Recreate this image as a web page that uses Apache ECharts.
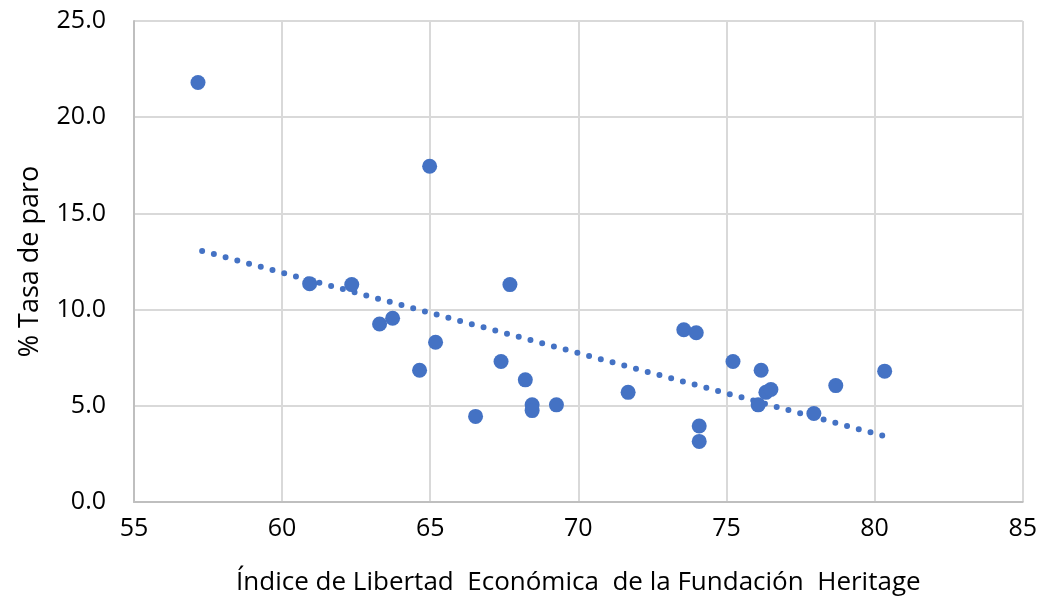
<!DOCTYPE html>
<html>
<head>
<meta charset="utf-8">
<script src="https://cdn.jsdelivr.net/npm/echarts@6/dist/echarts.min.js"></script>
<style>
html,body{margin:0;padding:0;background:#fff;}
#chart{width:1040px;height:605px;}
</style>
</head>
<body>
<div id="chart"></div>
<script>
// libertad economica (x) vs tasa de paro (y)
var libertad = [57.16, 64.98, 60.93, 62.35, 67.69, 63.29, 63.73, 65.18, 64.64, 67.39,
	66.53, 68.21, 68.44, 68.44, 69.26, 71.68, 73.56, 73.98, 74.08, 74.08,
	75.22, 76.17, 76.07, 76.33, 76.5, 77.95, 78.69, 80.34];
var paro = [21.8, 17.45, 11.35, 11.3, 11.3, 9.25, 9.55, 8.3, 6.85, 7.3,
	4.45, 6.35, 5.05, 4.75, 5.05, 5.7, 8.95, 8.8, 3.95, 3.15,
	7.3, 6.85, 5.05, 5.7, 5.85, 4.6, 6.05, 6.8];
// linea de tendencia (extremos)
var tendX = [57.3, 80.34];
var tendY = [13.05, 3.42];
var xTicks = [55, 60, 65, 70, 75, 80, 85];
var yTicks = [0, 5, 10, 15, 20, 25];

function init(){
	var puntos = [];
	for(var i=0;i<libertad.length;i++){
		puntos.push([libertad[i], paro[i]]);
	}
	var tend = [];
	for(var j=0;j<tendX.length;j++){
		tend.push([tendX[j], tendY[j]]);
	}
	var fuente = 'Open Sans';
	var option = {
		animation:false,
		grid:{left:134, right:16, top:21, bottom:103},
		xAxis:{
			type:'value',
			min:xTicks[0],
			max:xTicks[xTicks.length-1],
			interval:5,
			name:'Índice de Libertad  Económica  de la Fundación  Heritage',
			nameLocation:'middle',
			nameGap:68,
			nameTextStyle:{fontFamily:fuente, fontSize:26, color:'#000'},
			axisLine:{lineStyle:{color:'#bfbfbf', width:2}},
			axisTick:{show:false},
			axisLabel:{fontFamily:fuente, fontSize:25, color:'#000', margin:14},
			splitLine:{show:true, lineStyle:{color:'#d9d9d9', width:2}}
		},
		yAxis:{
			type:'value',
			min:yTicks[0],
			max:yTicks[yTicks.length-1],
			interval:5,
			name:'% Tasa de paro',
			nameLocation:'middle',
			nameGap:90,
			nameTextStyle:{fontFamily:fuente, fontSize:27, color:'#000'},
			axisLine:{show:true, lineStyle:{color:'#bfbfbf', width:2}},
			axisTick:{show:false},
			axisLabel:{fontFamily:fuente, fontSize:25, color:'#000', margin:28,
				formatter:function(v){return v.toFixed(1);}},
			splitLine:{show:true, lineStyle:{color:'#d9d9d9', width:2}}
		},
		series:[
			{
				type:'line',
				data:tend,
				symbol:'none',
				silent:true,
				lineStyle:{color:'#4472c4', width:6, type:[0,12.15], cap:'round'},
				z:3
			},
			{
				type:'scatter',
				data:puntos,
				symbolSize:15,
				itemStyle:{color:'#4472c4', opacity:1},
				z:4
			}
		]
	};
	var myChart = echarts.init(document.getElementById('chart'));
	myChart.setOption(option);
}
init();
</script>
</body>
</html>
